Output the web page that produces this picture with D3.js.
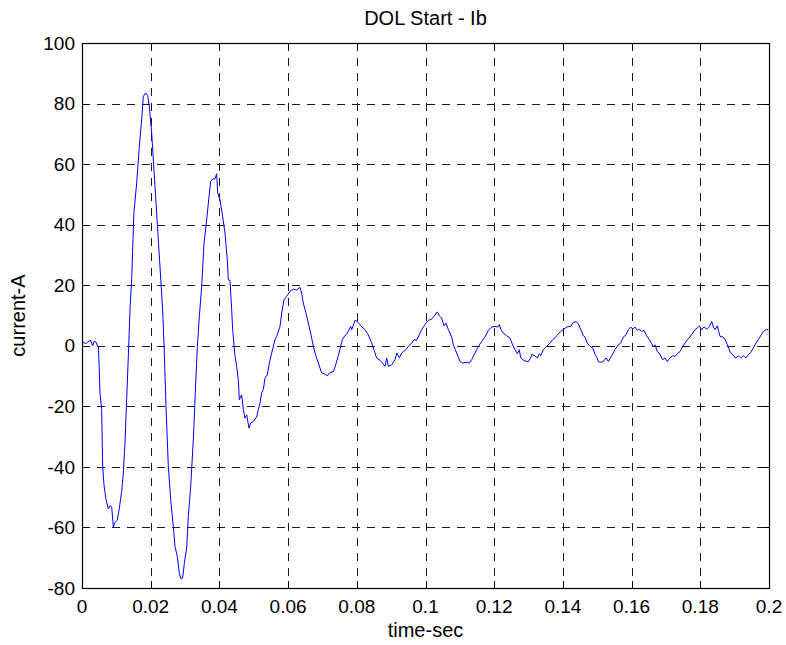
<!DOCTYPE html>
<html>
<head>
<meta charset="utf-8">
<script src="https://cdn.jsdelivr.net/npm/d3@7"></script>
<style>
  html, body { margin: 0; padding: 0; background: #fff; }
  svg { display: block; }
  text { font-family: "Liberation Sans", Arial, Helvetica, sans-serif; fill: #000; }
</style>
</head>
<body>
<svg id="chart" width="786" height="645"></svg>
<script>
// Phase-B line current during direct-on-line start
const timeSec = [
  0, 0.0012, 0.0018, 0.0025, 0.0031, 0.0035, 0.0041, 0.0045, 0.0048,
  0.00524, 0.00573, 0.00602, 0.0064, 0.00699, 0.00767, 0.00815, 0.00864, 0.00912, 0.00961,
  0.01029, 0.01087, 0.01155, 0.01203, 0.01252, 0.0130, 0.01349, 0.01397, 0.01446, 0.0151,
  0.01592, 0.01669, 0.01737, 0.01786, 0.01854, 0.01912, 0.0196, 0.02028, 0.02125, 0.02222,
  0.02348, 0.02387, 0.02445, 0.02513, 0.02581, 0.02659, 0.02707, 0.02775, 0.02833, 0.02882,
  0.0293, 0.02979, 0.03047, 0.03095, 0.03164, 0.03241, 0.0331, 0.03358, 0.03416, 0.03484,
  0.03552, 0.0363, 0.03688, 0.03746, 0.03804, 0.03872, 0.03921, 0.0395, 0.04017, 0.04095,
  0.04163, 0.0423, 0.0426, 0.04309, 0.04357, 0.04386, 0.04455, 0.04503, 0.04551, 0.0458,
  0.04648, 0.04697, 0.04745, 0.04794, 0.04862, 0.04911, 0.04988, 0.05085, 0.05133, 0.05182,
  0.0523, 0.05279, 0.05327, 0.05395, 0.05454, 0.05522, 0.05619, 0.05668, 0.05765, 0.05812,
  0.05881, 0.05958, 0.06055, 0.06152, 0.06249, 0.06346, 0.06394, 0.06443, 0.06521, 0.06589,
  0.06657, 0.06734, 0.06812, 0.0688, 0.06977, 0.07045, 0.07142, 0.0722, 0.07317, 0.07385,
  0.07482, 0.0758, 0.07627, 0.07725, 0.07823, 0.07851, 0.0795, 0.08017, 0.08114, 0.08236,
  0.08333, 0.0843, 0.08498, 0.08576, 0.08675, 0.08752, 0.08822, 0.0887, 0.08918, 0.09015,
  0.09112, 0.09162, 0.09239, 0.09307, 0.09356, 0.09433, 0.095, 0.09598, 0.09665, 0.09743,
  0.0982, 0.09888, 0.09985, 0.10082, 0.1018, 0.10247, 0.10345, 0.10402, 0.1047, 0.10538,
  0.10597, 0.10665, 0.10762, 0.1081, 0.10907, 0.11005, 0.11082, 0.11179, 0.11276, 0.11344,
  0.11412, 0.1149, 0.11567, 0.11636, 0.11733, 0.1183, 0.11927, 0.12024, 0.12102, 0.12149,
  0.12198, 0.12265, 0.12362, 0.12459, 0.12537, 0.12605, 0.12673, 0.12731, 0.12772, 0.12868,
  0.12993, 0.13062, 0.13091, 0.13188, 0.13256, 0.13314, 0.13353, 0.1343, 0.13527, 0.13624,
  0.13702, 0.1377, 0.13838, 0.13935, 0.14032, 0.14111, 0.14227, 0.14305, 0.14382, 0.1445,
  0.14499, 0.14547, 0.14596, 0.14644, 0.14712, 0.1479, 0.14868, 0.14935, 0.14984, 0.15032,
  0.15081, 0.15178, 0.15255, 0.15323, 0.1542, 0.15517, 0.15614, 0.15683, 0.15759, 0.15837,
  0.15905, 0.15974, 0.16032, 0.16099, 0.16167, 0.16226, 0.16294, 0.16362, 0.16439, 0.16517,
  0.16585, 0.16633, 0.16682, 0.1675, 0.16827, 0.16905, 0.16972, 0.1704, 0.17118, 0.17196,
  0.17264, 0.17332, 0.1741, 0.17487, 0.17556, 0.17623, 0.17701, 0.17779, 0.17846, 0.17915,
  0.17973, 0.18041, 0.18108, 0.18187, 0.18264, 0.18332, 0.1838, 0.18429, 0.18497, 0.18536,
  0.18574, 0.18652, 0.18719, 0.18787, 0.18865, 0.18962, 0.19039, 0.19107, 0.19176, 0.19253,
  0.19331, 0.19399, 0.19467, 0.19544, 0.19622, 0.19689, 0.19758, 0.19834, 0.19912, 0.1998
];
const currentA = [
  1.4, 0.7, 1.4, 1.8, 0.0, 1.4, 1.2, 0.0, -0.2,
  -15.6, -21.1, -39.8, -45.9, -50.8, -53.9, -52.8, -53.2, -59.9, -58.3,
  -57.6, -53.6, -48.1, -42.0, -32.1, -17.8, -3.5, 11.9, 21.8, 43.8,
  53.8, 65.8, 74.7, 82.4, 83.5, 82.6, 79.1, 70.3, 52.6, 35.0,
  11.9, 0.9, -20.0, -39.8, -50.8, -59.7, -66.3, -69.6, -75.1, -77.0,
  -76.7, -71.8, -66.8, -56.4, -46.5, -31.0, -12.3, -0.2, 9.7, 19.6,
  33.9, 41.6, 48.2, 54.3, 55.1, 55.1, 56.8, 50.5, 48.2, 42.7,
  37.2, 28.4, 21.8, 21.6, 11.9, 5.3, -3.5, -6.8, -11.2, -17.8,
  -16.2, -21.1, -23.9, -22.8, -27.2, -25.5, -25.0, -23.5, -21.1, -18.9,
  -15.6, -14.5, -10.7, -9.6, -5.7, -2.4, 2.0, 3.1, 6.4, 10.8,
  15.2, 16.3, 18.0, 18.7, 18.4, 19.3, 17.4, 14.1, 10.8, 7.5,
  4.2, -0.2, -3.5, -5.7, -9.0, -9.2, -9.9, -8.8, -8.6, -6.3,
  -2.4, 2.0, 2.9, 4.2, 6.4, 5.3, 8.4, 8.0, 6.6, 5.3,
  3.6, 1.1, -1.3, -4.0, -4.8, -5.7, -6.8, -4.0, -6.8, -6.3,
  -4.6, -2.4, -4.0, -2.4, -1.9, -1.3, -0.2, 0.9, 2.0, 1.8,
  3.6, 5.3, 7.0, 8.4, 8.8, 9.7, 11.2, 9.9, 9.2, 6.6,
  7.5, 5.3, 2.9, 0.3, -2.4, -5.2, -5.7, -5.5, -5.7, -4.6,
  -3.0, -1.3, 0.3, 1.4, 2.9, 5.1, 6.2, 6.4, 6.2, 7.0,
  5.3, 4.2, 3.3, 2.6, 0.3, -1.3, -2.6, -1.3, -4.0, -4.9,
  -5.3, -4.0, -2.9, -3.3, -4.0, -2.6, -3.3, -1.3, -0.2, 0.9,
  2.0, 2.6, 3.6, 4.7, 5.5, 6.2, 6.4, 7.7, 8.0, 7.3,
  5.9, 4.7, 3.3, 2.9, 0.9, -0.2, -0.7, -2.9, -3.7, -5.2,
  -5.5, -5.2, -4.0, -5.2, -3.3, -1.3, 0.3, 0.9, 2.9, 3.6,
  5.3, 6.2, 5.5, 6.2, 5.1, 5.5, 4.7, 5.1, 3.3, 2.0,
  0.7, -0.4, 0.3, -1.9, -2.9, -4.6, -4.0, -5.2, -4.0, -3.3,
  -3.5, -2.6, -1.9, -0.2, 0.9, 2.0, 2.9, 4.2, 5.3, 5.9,
  6.6, 5.3, 6.2, 5.5, 6.4, 8.0, 6.2, 5.3, 6.6, 4.7,
  3.1, 2.9, 2.2, 0.3, -1.9, -3.3, -4.0, -3.3, -4.0, -3.3,
  -4.0, -2.9, -2.2, -0.7, 0.9, 2.0, 3.3, 4.7, 5.3, 5.3
];

const xTickValues = [0, 0.02, 0.04, 0.06, 0.08, 0.1, 0.12, 0.14, 0.16, 0.18, 0.2];
const xTickLabels = ["0", "0.02", "0.04", "0.06", "0.08", "0.1", "0.12", "0.14", "0.16", "0.18", "0.2"];
const yTickValues = [-80, -60, -40, -20, 0, 20, 40, 60, 80, 100];
const yTickLabels = ["-80", "-60", "-40", "-20", "0", "20", "40", "60", "80", "100"];

const titleText = "DOL Start - Ib";
const xLabelText = "time-sec";
const yLabelText = "current-A";

const svg = d3.select("#chart");
const W = 786, H = 645;
const margin = { top: 43, right: 17, bottom: 57, left: 82 };
const x0 = margin.left, x1 = W - margin.right;
const y0 = H - margin.bottom, y1 = margin.top;

const x = d3.scaleLinear().domain([0, 0.2]).range([x0, x1]);
const y = d3.scaleLinear().domain([-80, 100]).range([y0, y1]);

const tickLen = 7;

// dashed grid
const grid = svg.append("g").attr("stroke", "#1a1a1a").attr("stroke-width", 1)
  .attr("stroke-dasharray", "8,7").attr("fill", "none");
grid.selectAll("line.vx").data(xTickValues.slice(1, -1)).enter().append("line")
  .attr("x1", d => Math.round(x(d)) + 0.5).attr("x2", d => Math.round(x(d)) + 0.5)
  .attr("y1", y1).attr("y2", y0);
grid.selectAll("line.hy").data(yTickValues.slice(1, -1)).enter().append("line")
  .attr("y1", d => Math.round(y(d)) + 0.5).attr("y2", d => Math.round(y(d)) + 0.5)
  .attr("x1", x0).attr("x2", x1);

// signal
const line = d3.line()
  .x((d, i) => x(timeSec[i]))
  .y((d, i) => y(currentA[i]));
svg.append("path")
  .datum(currentA)
  .attr("d", line)
  .attr("fill", "none")
  .attr("stroke", "#0000ff")
  .attr("stroke-width", 1)
  .attr("stroke-linejoin", "round");

// inward ticks on all four sides
const ticks = svg.append("g").attr("stroke", "#000").attr("stroke-width", 1);
xTickValues.forEach(v => {
  const px = Math.round(x(v)) + 0.5;
  ticks.append("line").attr("x1", px).attr("x2", px).attr("y1", y0).attr("y2", y0 - tickLen);
  ticks.append("line").attr("x1", px).attr("x2", px).attr("y1", y1).attr("y2", y1 + tickLen);
});
yTickValues.forEach(v => {
  const py = Math.round(y(v)) + 0.5;
  ticks.append("line").attr("y1", py).attr("y2", py).attr("x1", x0).attr("x2", x0 + tickLen);
  ticks.append("line").attr("y1", py).attr("y2", py).attr("x1", x1).attr("x2", x1 - tickLen);
});

// axes box
svg.append("rect")
  .attr("x", x0 + 0.5).attr("y", y1 + 0.5)
  .attr("width", x1 - x0).attr("height", y0 - y1)
  .attr("fill", "none").attr("stroke", "#000").attr("stroke-width", 1.2);

// tick labels
svg.append("g").selectAll("text").data(xTickValues).enter().append("text")
  .attr("x", d => x(d)).attr("y", 613)
  .attr("text-anchor", "middle").attr("font-size", 19)
  .text((d, i) => xTickLabels[i]);
svg.append("g").selectAll("text").data(yTickValues).enter().append("text")
  .attr("x", 75).attr("y", d => y(d))
  .attr("dy", "0.35em")
  .attr("text-anchor", "end").attr("font-size", 19)
  .text((d, i) => yTickLabels[i]);

// title and axis labels
svg.append("text").attr("x", (x0 + x1) / 2).attr("y", 25)
  .attr("text-anchor", "middle").attr("font-size", 20).text(titleText);
svg.append("text").attr("x", (x0 + x1) / 2).attr("y", 637)
  .attr("text-anchor", "middle").attr("font-size", 20).text(xLabelText);
svg.append("text")
  .attr("transform", `translate(25,${(y0 + y1) / 2}) rotate(-90)`)
  .attr("text-anchor", "middle").attr("font-size", 20).text(yLabelText);
</script>
</body>
</html>
